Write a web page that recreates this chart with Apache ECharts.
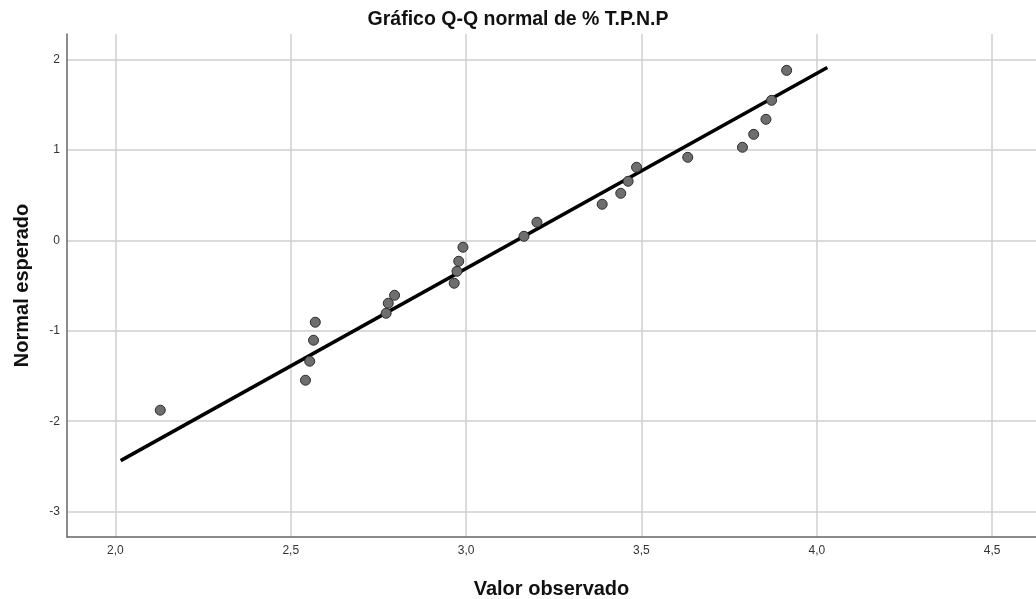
<!DOCTYPE html>
<html>
<head>
<meta charset="utf-8">
<script src="https://cdn.jsdelivr.net/npm/echarts@6/dist/echarts.min.js"></script>
<style>
html,body{margin:0;padding:0;background:#fff;}
#qq{width:1036px;height:599px;}
</style>
</head>
<body>
<div id="qq"></div>
<script>
// valores observados (x) y normal esperado (y)
var observado = [2.128, 2.542, 2.554, 2.565, 2.570, 2.772, 2.778, 2.796,
  2.966, 2.974, 2.979, 2.991, 3.165, 3.202, 3.388, 3.441, 3.462, 3.486,
  3.632, 3.788, 3.820, 3.855, 3.871, 3.914]
var esperado = [-1.878, -1.547, -1.337, -1.105, -0.906, -0.807, -0.696, -0.608,
  -0.475, -0.343, -0.232, -0.077, 0.044, 0.199, 0.398, 0.519, 0.652, 0.807,
  0.917, 1.028, 1.171, 1.337, 1.547, 1.878]
// recta de referencia
var rectaX = [2.015, 4.03]
var rectaY = [-2.436, 1.91]
// marcas de los ejes
var ticksX = [2.0, 2.5, 3.0, 3.5, 4.0, 4.5]
var ticksY = [-3, -2, -1, 0, 1, 2]

var puntos = observado.map(function(v, i){ return [v, esperado[i]] })
var recta = rectaX.map(function(v, i){ return [v, rectaY[i]] })

var fuente = 'Liberation Sans, Arial, sans-serif'
var option = {
  animation: false,
  title: {
    text: 'Gráfico Q-Q normal de % T.P.N.P',
    left: 'center',
    top: 5,
    textStyle: {fontFamily: fuente, fontSize: 19.5, fontWeight: 'bold', color: '#111'}
  },
  grid: {left: 67, right: 0, top: 34, bottom: 62, outerBoundsMode: 'none', containLabel: false},
  xAxis: {
    type: 'value',
    min: 1.862,
    max: 4.625,
    name: 'Valor observado',
    nameLocation: 'middle',
    nameGap: 42,
    nameTextStyle: {fontFamily: fuente, fontSize: 20, fontWeight: 'bold', color: '#111'},
    axisLine: {show: true, onZero: false, lineStyle: {color: '#666', width: 1.5}},
    axisTick: {show: false, customValues: ticksX},
    axisLabel: {
      customValues: ticksX,
      margin: 8,
      fontFamily: fuente, fontSize: 12, color: '#333',
      formatter: function(v){ return v.toFixed(1).replace('.', ',') }
    },
    splitLine: {show: true, lineStyle: {color: '#cfcfcf', width: 1.5}}
  },
  yAxis: {
    type: 'value',
    min: -3.28,
    max: 2.28,
    name: 'Normal esperado',
    nameLocation: 'middle',
    nameGap: 35,
    nameTextStyle: {fontFamily: fuente, fontSize: 20, fontWeight: 'bold', color: '#111'},
    axisLine: {show: true, onZero: false, lineStyle: {color: '#666', width: 1.5}},
    axisTick: {show: false, customValues: ticksY},
    axisLabel: {
      customValues: ticksY,
      margin: 7,
      fontFamily: fuente, fontSize: 12, color: '#333'
    },
    splitLine: {show: true, lineStyle: {color: '#cfcfcf', width: 1.5}}
  },
  series: [
    {
      type: 'line',
      data: recta,
      symbol: 'none',
      lineStyle: {color: '#000', width: 3.5},
      z: 2
    },
    {
      type: 'scatter',
      data: puntos,
      symbolSize: 10,
      itemStyle: {color: '#6e6e6e', borderColor: '#2a2a2a', borderWidth: 1, opacity: 1},
      z: 3
    }
  ]
}

var chart = echarts.init(document.getElementById('qq'))
chart.setOption(option)
</script>
</body>
</html>
